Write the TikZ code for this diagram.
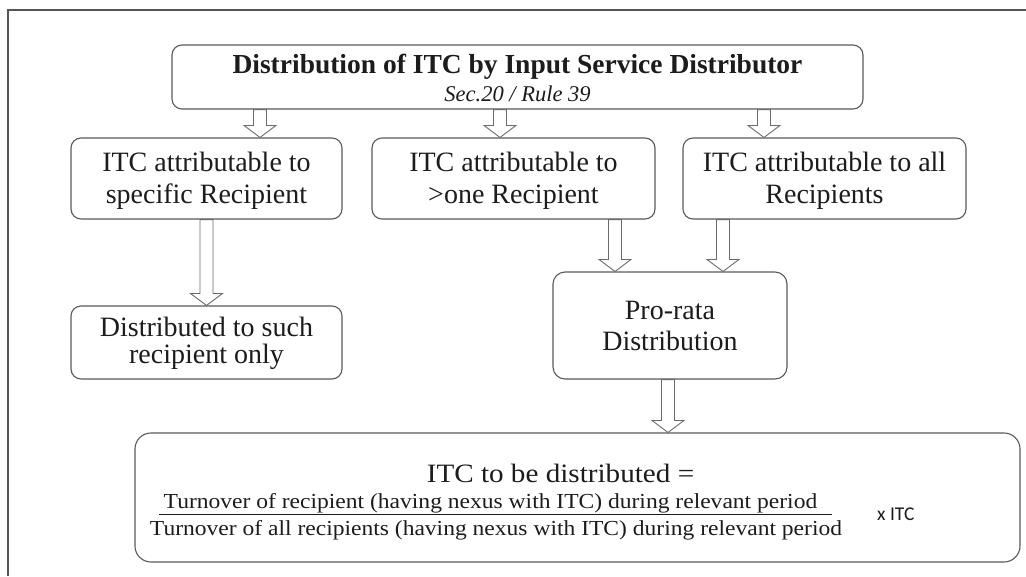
\documentclass[tikz,border=0pt]{standalone}
\usepackage{fontspec}
\setmainfont{Liberation Serif}
\newfontfamily\formulafont[FakeStretch=1.1]{Liberation Serif}
\newfontfamily\labelsans{Carlito}
\usetikzlibrary{calc}

\definecolor{ink}{HTML}{1C1C1C}
\definecolor{boxgray}{HTML}{5A5A5A}
\definecolor{arrowgray}{HTML}{6A6A6A}
\definecolor{framegray}{HTML}{555555}

\tikzset{
  frameline/.style={draw=framegray, line width=1.4pt},
  box/.style={draw=boxgray, line width=1.1pt, rounded corners=10pt, fill=white,
    align=center, inner sep=0pt, text=ink,
    font={\fontsize{28}{31.5}\selectfont}},
  hollow/.style={draw=arrowgray, line width=0.9pt, fill=white, line join=miter},
  formtext/.style={anchor=base, inner sep=0pt, text=ink},
  fracbar/.style={draw=ink, line width=0.9pt},
}

% vertical hollow block arrow from #1 (top of shaft) down to #2 (tip)
\newcommand{\hollowarrow}[2]{%
  \draw[hollow] let \p1=#1, \p2=#2 in
    (\x1-6.5pt,\y1) -- (\x1-6.5pt,\y2+12pt) -- (\x1-16pt,\y2+12pt) -- (\x1,\y2)
    -- (\x1+16pt,\y2+12pt) -- (\x1+6.5pt,\y2+12pt) -- (\x1+6.5pt,\y1) -- cycle;}

\begin{document}
\begin{tikzpicture}[x=1pt, y=-1pt]
\useasboundingbox (0,0) rectangle (1026,576);

% page frame (open to the right and bottom)
\coordinate (fbl) at (8,576);
\coordinate (ftl) at (8,10);
\coordinate (ftr) at (1026,10);
\draw[frameline] (fbl) -- (ftl) -- (ftr);

% heading (text box baseline sits on its last line)
\node[box, minimum width=691pt, minimum height=64pt, text height=53pt, text depth=5pt,
      font={\fontsize{27.5}{28}\selectfont}] (title) at (517.5,77)
  {{\bfseries Distribution of ITC by Input Service Distributor}\\
   {\itshape\fontsize{22.5}{28}\selectfont Sec.20 / Rule 39}};

% three kinds of ITC
\node[box, minimum width=271pt, minimum height=81pt, text height=56pt, text depth=7pt]
  (spec) at (206.5,178.5) {ITC attributable to\\specific Recipient};
\node[box, minimum width=283pt, minimum height=81pt, text height=56pt, text depth=7pt]
  (more) at (513.5,178.5) {ITC attributable to\\>one Recipient};
\node[box, minimum width=283pt, minimum height=81pt, text height=56pt, text depth=7pt]
  (all) at (824.5,178.5) {ITC attributable to all\\Recipients};

% outcomes
\node[box, minimum width=271pt, minimum height=73pt, text height=48pt, text depth=7pt,
      font={\fontsize{28}{27}\selectfont}]
  (only) at (206.5,342.5) {Distributed to such\\recipient only};
\node[box, minimum width=234pt, minimum height=107pt, text height=57.4pt, text depth=7pt,
      rounded corners=12pt]
  (prorata) at (670,325.5) {Pro-rata\\Distribution};

% formula box
\node[box, minimum width=885pt, minimum height=129pt, rounded corners=16pt]
  (share) at (577.5,497.5) {};
\node[formtext, font={\formulafont\fontsize{26.5}{30}\selectfont}] (lhs) at (560.5,482)
  {ITC to be distributed =};
\node[formtext, font={\formulafont\fontsize{21.4}{24}\selectfont}] (num) at (490.5,508)
  {Turnover of recipient (having nexus with ITC) during relevant period};
\node[formtext, font={\formulafont\fontsize{21.4}{24}\selectfont}] (den) at (496,535)
  {Turnover of all recipients (having nexus with ITC) during relevant period};
\draw[fracbar] (159,514) -- (832,514);
\node[formtext, anchor=base west, font={\labelsans\fontsize{19.5}{22}\selectfont}] (times)
  at (877,520) {x ITC};

% arrow positions
\coordinate (ax1) at (260,0);
\coordinate (ax2) at (500,0);
\coordinate (ax3) at (764,0);
\coordinate (ax4) at (206.5,0);
\coordinate (ax5) at (615,0);
\coordinate (ax6) at (723,0);
\coordinate (ax7) at (668,0);

\hollowarrow{(title.south -| ax1)}{(spec.north -| ax1)}
\hollowarrow{(title.south -| ax2)}{(more.north -| ax2)}
\hollowarrow{(title.south -| ax3)}{(all.north -| ax3)}
\hollowarrow{(spec.south -| ax4)}{(only.north -| ax4)}
\hollowarrow{(more.south -| ax5)}{(prorata.north -| ax5)}
\hollowarrow{(all.south -| ax6)}{(prorata.north -| ax6)}
\hollowarrow{(prorata.south -| ax7)}{(share.north -| ax7)}
\end{tikzpicture}
\end{document}
